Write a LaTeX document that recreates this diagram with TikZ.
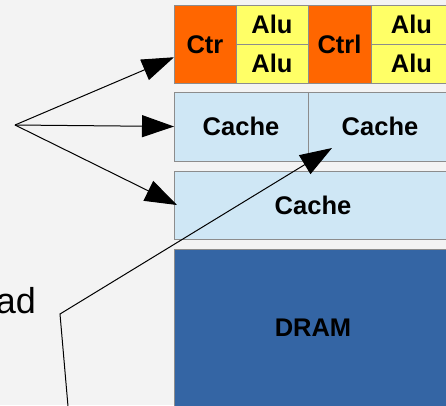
\documentclass[tikz,border=0pt]{standalone}
\usepackage{fontspec}
\setmainfont{Liberation Sans}
\usetikzlibrary{arrows.meta}
\definecolor{bg}{HTML}{F3F3F3}
\definecolor{ctrlorange}{HTML}{FF6600}
\definecolor{alufill}{HTML}{FFFF66}
\definecolor{cachefill}{HTML}{CFE7F5}
\definecolor{dramfill}{HTML}{3465A4}
\definecolor{edge}{HTML}{8C8C8C}

\begin{document}
\begin{tikzpicture}[x=1pt,y=-1pt,
  unit/.style={draw=edge, line width=1pt, inner sep=0pt, outer sep=0pt,
    font=\fontsize{25.5}{30}\selectfont\bfseries, anchor=north west},
  ctrlbox/.style={unit, fill=ctrlorange, minimum width=#1, minimum height=77.5pt},
  alubox/.style={unit, fill=alufill, minimum width=#1, minimum height=38.75pt},
  cachebox/.style={unit, fill=cachefill, minimum width=#1, minimum height=69pt},
  conn/.style={draw=black, line width=1pt, -{Triangle[length=32pt,width=22pt]}}]
\useasboundingbox (0,0) rectangle (446,405);
\fill[bg] (0,0) rectangle (446,405);

\begin{scope}
\clip (0,0) rectangle (446,405);
% compute units: control logic and ALUs
\node[ctrlbox=62pt] (ctr) at (174,5.5) {Ctr};
\node[alubox=72pt] (alu1) at (236,5.5) {Alu};
\node[alubox=72pt] (alu2) at (236,44.25) {Alu};
\node[ctrlbox=63pt] (ctrl) at (308,5.5) {Ctrl};
\node[alubox=81pt] (alu3) at (371,5.5) {Alu};
\node[alubox=81pt] (alu4) at (371,44.25) {Alu};
% cache levels
\node[cachebox=134pt] (cacheA) at (174,92) {Cache};
\node[cachebox=144pt] (cacheB) at (308,92) {Cache};
\node[cachebox=278pt, minimum height=68pt] (cacheC) at (174,171) {Cache};
% main memory
\node[unit, fill=dramfill, minimum width=278pt, minimum height=158pt] (dram) at (174,249) {DRAM};
\end{scope}

% label on the left
\node[anchor=base east, inner sep=0pt, font=\fontsize{36}{40}\selectfont] (lbl) at (36,313) {ad};

% fan of arrows
\coordinate (fan) at (15,125);
\draw[conn] (fan) -- ([yshift=-13pt]ctr.west);
\draw[conn] (fan) -- (cacheA.west);
\draw[conn] (fan) -- ([xshift=3pt]cacheC.west);

% bent arrow coming up from below
\coordinate (tail) at (68.5,412);
\coordinate (kink) at (60,314);
\draw[conn] (tail) -- (kink) -- ([xshift=24pt,yshift=13pt]cacheB.south west);
\end{tikzpicture}
\end{document}
